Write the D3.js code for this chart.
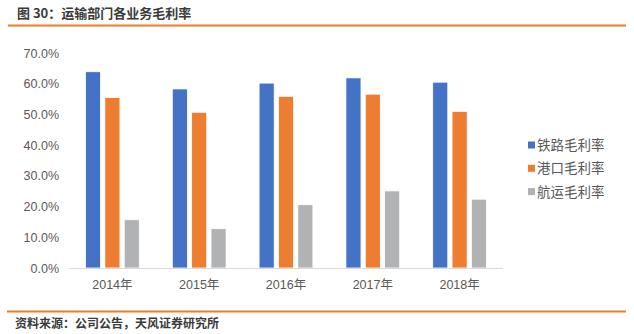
<!DOCTYPE html>
<html><head><meta charset="utf-8">
<script src="https://cdn.jsdelivr.net/npm/d3@7"></script>
<style>body{margin:0;background:#fff;}svg{display:block;font-family:"Liberation Sans","Noto Sans CJK SC",sans-serif;}</style>
</head><body><svg id="c" width="634" height="334"></svg>
<script>
const categories = ["2014年","2015年","2016年","2017年","2018年"];
const seriesNames = ["铁路毛利率","港口毛利率","航运毛利率"];
const railway = [63.9, 58.3, 60.2, 61.9, 60.5];
const port = [55.5, 50.7, 55.9, 56.6, 51.0];
const shipping = [15.7, 12.8, 20.6, 25.1, 22.4];
const yTicks = [0,10,20,30,40,50,60,70];
const colors = ["#4472C4","#ED7D31","#B1B2B4"];
const series = [railway, port, shipping];

const svg = d3.select("#c");
const cjk = '"Noto Sans CJK SC",sans-serif';
// title
svg.append("text").attr("x",17).attr("y",18).attr("font-size",13).attr("font-weight","bold")
  .attr("fill","#3a3a3a").attr("font-family",cjk).text("图 30：运输部门各业务毛利率");
svg.append("line").attr("x1",8).attr("x2",626).attr("y1",25.5).attr("y2",25.5).attr("stroke","#EE7F22").attr("stroke-width",2);
svg.append("line").attr("x1",7).attr("x2",626).attr("y1",311.5).attr("y2",311.5).attr("stroke","#EE7F22").attr("stroke-width",2);
svg.append("text").attr("x",15).attr("y",328).attr("font-size",12).attr("font-weight","bold")
  .attr("fill","#3a3a3a").attr("font-family",cjk).text("资料来源：公司公告，天风证券研究所");

const x0 = d3.scaleBand().domain(categories).range([69,503]).paddingInner(0.38).paddingOuter(0.19);
const x1 = d3.scaleBand().domain(seriesNames).range([0,x0.bandwidth()]).paddingInner(0.22);
const y = d3.scaleLinear().domain([0,70]).range([268,53]);

// y axis labels
svg.append("g").selectAll("text").data(yTicks).join("text")
  .attr("x",59).attr("y",d=>y(d)+4.5).attr("text-anchor","end").attr("font-size",12.5)
  .attr("fill","#595959").text(d=>d.toFixed(1)+"%");

// bars
const g = svg.append("g");
series.forEach((vals,si)=>{
  g.selectAll(null).data(vals).join("rect")
    .attr("x",(d,i)=>x0(categories[i])+x1(seriesNames[si]))
    .attr("y",d=>y(d)).attr("width",x1.bandwidth()).attr("height",d=>268-y(d))
    .attr("fill",colors[si]).attr("stroke","#fff").attr("stroke-width",0.8);
});
// baseline
svg.append("line").attr("x1",69).attr("x2",503).attr("y1",268.5).attr("y2",268.5).attr("stroke","#D9D9D9").attr("stroke-width",1);

// x labels
svg.append("g").selectAll("text").data(categories).join("text")
  .attr("x",d=>x0(d)+x0.bandwidth()/2).attr("y",289).attr("text-anchor","middle")
  .attr("font-size",12.5).attr("fill","#595959").text(d=>d);

// legend
const lg = svg.append("g");
seriesNames.forEach((n,i)=>{
  const yy = 145 + i*23.3;
  lg.append("rect").attr("x",528).attr("y",yy-3.5).attr("width",7).attr("height",7).attr("fill",colors[i]);
  lg.append("text").attr("x",537).attr("y",yy+5).attr("font-size",13.5).attr("fill","#595959")
    .attr("font-family",cjk).text(n);
});
</script></body></html>
